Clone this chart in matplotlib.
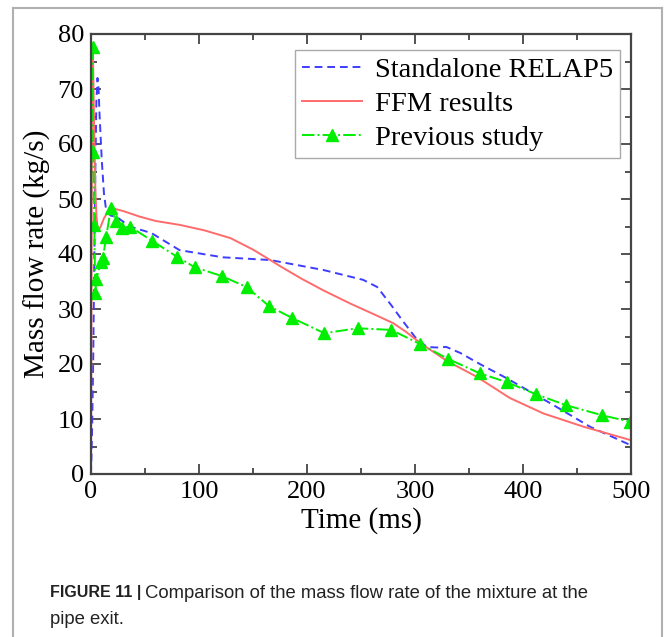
import matplotlib
matplotlib.use('Agg')
import matplotlib.pyplot as plt
from matplotlib.lines import Line2D

# standalone RELAP5 (blue dashed)
t_relap = [0, 1, 2, 3, 4, 5, 6, 7, 8, 10, 12, 14, 18, 24, 36, 56, 82, 122, 166, 215, 252, 265, 278, 288, 300, 311, 320, 329, 342, 360, 385, 425, 462, 499]
m_relap = [0, 8, 20, 38, 55, 68, 72, 70, 65, 57, 51, 48, 47, 46.7, 45, 43.8, 40.7, 39.4, 38.9, 37.1, 35.3, 34, 30.7, 28, 24.9, 23.1, 23, 23.1, 22, 20, 17.4, 12.9, 8.6, 5.3]

# FFM results (red solid)
t_ffm = [0, 0.5, 1, 1.5, 2, 3, 4, 5, 6, 7.4, 9, 12, 16, 22, 30, 45, 60, 82, 105, 129, 150, 166, 175, 195, 215, 240, 268, 280, 292, 305, 330, 357, 388, 419, 456, 499]
m_ffm = [0, 40, 70, 77, 74, 62, 52, 47, 45, 44.5, 45, 46.5, 47.8, 48.2, 47.8, 46.8, 46, 45.3, 44.3, 42.9, 40.8, 38.9, 37.8, 35.5, 33.4, 31, 28.5, 27.4, 25.8, 23.8, 20.5, 17.7, 13.8, 11, 8.6, 6.2]

# previous study (green dash-dot, triangles)
t_prev = [1.5, 2, 3, 4, 5, 9, 11, 14, 18.5, 23, 29, 36, 56.5, 79.6, 96, 121, 144, 165, 186, 216, 247, 278, 305, 331, 360, 385, 412, 440, 473, 499]
m_prev = [77.6, 58.5, 45.3, 33, 35.4, 38.5, 39.2, 43.1, 48.4, 46, 44.7, 45, 42.4, 39.5, 37.6, 36, 34, 30.5, 28.4, 25.6, 26.5, 26.2, 23.6, 20.9, 18.3, 16.7, 14.5, 12.5, 10.7, 9.5]

serif = ['Liberation Serif', 'DejaVu Serif']

fig = plt.figure(figsize=(6.66, 6.37), dpi=100)
ax = fig.add_axes([91/666, 1-474/637, 540/666, 440/637])

ax.plot(t_relap, m_relap, color='#3d3dff', linestyle=(0, (4, 2.5)), linewidth=1.4, label='Standalone RELAP5')
ax.plot(t_ffm, m_ffm, color='#ff6b6b', linestyle='-', linewidth=1.4, label='FFM results')
ax.plot(t_prev, m_prev, color='#00ee00', linestyle='-.', linewidth=1.4,
        marker='^', markersize=8, markeredgecolor='#00ee00', label='Previous study')

ax.set_xlim(0, 500)
ax.set_ylim(0, 80)
ax.set_xticks([0, 100, 200, 300, 400, 500])
ax.set_xticks(range(50, 500, 100), minor=True)
ax.set_yticks(range(0, 81, 10))
ax.set_yticks(range(5, 80, 10), minor=True)
ax.tick_params(which='both', direction='in', top=True, right=True, color='#444444', width=1.3)
ax.tick_params(which='major', length=7, labelsize=19, pad=5)
ax.tick_params(which='minor', length=4)
for lbl in ax.get_xticklabels() + ax.get_yticklabels():
    lbl.set_family(serif)
for s in ax.spines.values():
    s.set_color('#444444')
    s.set_linewidth(1.6)

ax.set_xlabel('Time (ms)', fontsize=21, family=serif, labelpad=3)
ax.set_ylabel('Mass flow rate (kg/s)', fontsize=21, family=serif, labelpad=5)

leg = ax.legend(loc='upper right', bbox_to_anchor=(0.98, 0.9636), prop={'family': serif, 'size': 20.5},
                fancybox=False, edgecolor='#aaaaaa', framealpha=1, handlelength=2.1,
                borderpad=0.25, labelspacing=0.28, handletextpad=0.45, borderaxespad=0)
leg.get_frame().set_linewidth(1.0)

# outer frame around the figure
fig.add_artist(Line2D([13/666, 13/666], [0, 1-8/637], color='#b0b0b0', linewidth=1.5, transform=fig.transFigure))
fig.add_artist(Line2D([13/666, 662/666], [1-8/637, 1-8/637], color='#b0b0b0', linewidth=1.5, transform=fig.transFigure))
fig.add_artist(Line2D([662/666, 662/666], [0, 1-8/637], color='#b0b0b0', linewidth=1.5, transform=fig.transFigure))

# caption
sans = ['Liberation Sans', 'DejaVu Sans']
bold = fig.text(50/666, 1-593/637, 'FIGURE 11 |', fontsize=11.5, fontweight='bold', family=sans,
                va='center', color='#222222')
r = fig.canvas.get_renderer()
x_end = bold.get_window_extent(r).x1
fig.text((x_end + 4)/666, 1-593/637, 'Comparison of the mass flow rate of the mixture at the', fontsize=13.3,
         family=sans, va='center', color='#222222')
fig.text(50/666, 1-619/637, 'pipe exit.', fontsize=13.3, family=sans, va='center', color='#222222')

fig.savefig('out.png', dpi=100)
